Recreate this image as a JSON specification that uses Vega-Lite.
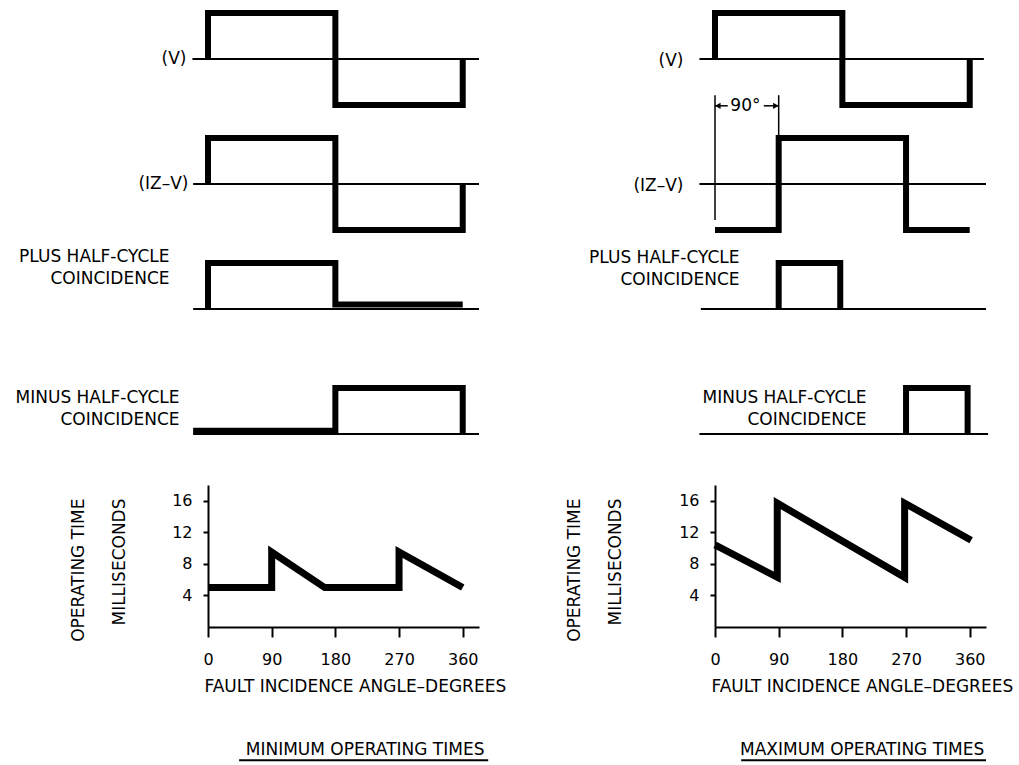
{
  "$schema": "https://vega.github.io/schema/vega-lite/v6.json",
  "background": "white",
  "padding": {"left": 15, "top": 0, "right": 2, "bottom": 2},
  "config": {
    "view": {"stroke": null},
    "font": "DejaVu Sans",
    "axis": {"grid": false, "titleFontWeight": "normal", "titleFontSize": 17, "titleColor": "#000", "labelColor": "#000", "labelFontSize": 16, "domainColor": "#000", "tickColor": "#000", "domainWidth": 2, "tickWidth": 2},
    "text": {"fontSize": 17, "color": "#000"}
  },
  "datasets": {
    "wave": [
      {"p": "minV", "i": 0, "deg": 0, "lvl": 0}, {"p": "minV", "i": 1, "deg": 0, "lvl": 1}, {"p": "minV", "i": 2, "deg": 180, "lvl": 1}, {"p": "minV", "i": 3, "deg": 180, "lvl": -1}, {"p": "minV", "i": 4, "deg": 360, "lvl": -1}, {"p": "minV", "i": 5, "deg": 360, "lvl": 0},
      {"p": "minIZ", "i": 0, "deg": 0, "lvl": 0}, {"p": "minIZ", "i": 1, "deg": 0, "lvl": 1}, {"p": "minIZ", "i": 2, "deg": 180, "lvl": 1}, {"p": "minIZ", "i": 3, "deg": 180, "lvl": -1}, {"p": "minIZ", "i": 4, "deg": 360, "lvl": -1}, {"p": "minIZ", "i": 5, "deg": 360, "lvl": 0},
      {"p": "minPlus", "i": 0, "deg": 0, "lvl": 0}, {"p": "minPlus", "i": 1, "deg": 0, "lvl": 1}, {"p": "minPlus", "i": 2, "deg": 180, "lvl": 1}, {"p": "minPlus", "i": 3, "deg": 180, "lvl": 0.1}, {"p": "minPlus", "i": 4, "deg": 360, "lvl": 0.1},
      {"p": "minMinus", "i": 0, "deg": -21, "lvl": 0.07}, {"p": "minMinus", "i": 1, "deg": 180, "lvl": 0.07}, {"p": "minMinus", "i": 2, "deg": 180, "lvl": 1}, {"p": "minMinus", "i": 3, "deg": 360, "lvl": 1}, {"p": "minMinus", "i": 4, "deg": 360, "lvl": 0},
      {"p": "maxV", "i": 0, "deg": 0, "lvl": 0}, {"p": "maxV", "i": 1, "deg": 0, "lvl": 1}, {"p": "maxV", "i": 2, "deg": 180, "lvl": 1}, {"p": "maxV", "i": 3, "deg": 180, "lvl": -1}, {"p": "maxV", "i": 4, "deg": 360, "lvl": -1}, {"p": "maxV", "i": 5, "deg": 360, "lvl": 0},
      {"p": "maxIZ", "i": 0, "deg": 0, "lvl": -1}, {"p": "maxIZ", "i": 1, "deg": 90, "lvl": -1}, {"p": "maxIZ", "i": 2, "deg": 90, "lvl": 1}, {"p": "maxIZ", "i": 3, "deg": 270, "lvl": 1}, {"p": "maxIZ", "i": 4, "deg": 270, "lvl": -1}, {"p": "maxIZ", "i": 5, "deg": 360, "lvl": -1},
      {"p": "maxPlus", "i": 0, "deg": 90, "lvl": 0}, {"p": "maxPlus", "i": 1, "deg": 90, "lvl": 1}, {"p": "maxPlus", "i": 2, "deg": 177, "lvl": 1}, {"p": "maxPlus", "i": 3, "deg": 177, "lvl": 0},
      {"p": "maxMinus", "i": 0, "deg": 270, "lvl": 0}, {"p": "maxMinus", "i": 1, "deg": 270, "lvl": 1}, {"p": "maxMinus", "i": 2, "deg": 357, "lvl": 1}, {"p": "maxMinus", "i": 3, "deg": 357, "lvl": 0}
    ],
    "base": [
      {"p": "minV", "deg": -22, "deg2": 383, "lvl": 0},
      {"p": "minIZ", "deg": -21, "deg2": 383, "lvl": 0},
      {"p": "minPlus", "deg": -21, "deg2": 383, "lvl": 0},
      {"p": "minMinus", "deg": -21, "deg2": 383, "lvl": 0},
      {"p": "maxV", "deg": -22, "deg2": 380, "lvl": 0},
      {"p": "maxIZ", "deg": -22, "deg2": 383, "lvl": 0},
      {"p": "maxPlus", "deg": -20, "deg2": 383, "lvl": 0},
      {"p": "maxMinus", "deg": -22, "deg2": 386, "lvl": 0}
    ],
    "op": [
      {"p": "min", "i": 0, "deg": 0, "ms": 5.0}, {"p": "min", "i": 1, "deg": 90, "ms": 5.0}, {"p": "min", "i": 2, "deg": 90, "ms": 9.5}, {"p": "min", "i": 3, "deg": 165, "ms": 5.0}, {"p": "min", "i": 4, "deg": 270, "ms": 5.0}, {"p": "min", "i": 5, "deg": 270, "ms": 9.5}, {"p": "min", "i": 6, "deg": 360, "ms": 5.0},
      {"p": "max", "i": 0, "deg": 0, "ms": 10.4}, {"p": "max", "i": 1, "deg": 88, "ms": 6.3}, {"p": "max", "i": 2, "deg": 88, "ms": 15.7}, {"p": "max", "i": 3, "deg": 268, "ms": 6.3}, {"p": "max", "i": 4, "deg": 268, "ms": 15.7}, {"p": "max", "i": 5, "deg": 362, "ms": 11.0}
    ],
    "captions": [
      {"p": "min", "caption": "MINIMUM OPERATING TIMES"},
      {"p": "max", "caption": "MAXIMUM OPERATING TIMES"}
    ],
    "annV": [{"deg": 0, "lvl": -0.78, "lvl2": 1.93}, {"deg": 90, "lvl": 1.0, "lvl2": 1.93}],
    "annH": [{"deg": 0, "deg2": 18, "lvl": 1.7}, {"deg": 69, "deg2": 90, "lvl": 1.7}],
    "annA": [{"deg": 4, "lvl": 1.7, "dir": "left"}, {"deg": 86, "lvl": 1.7, "dir": "right"}],
    "annT": [{"deg": 43, "lvl": 1.7, "label": "90°"}]
  },
  "columns": 2,
  "spacing": {"row": 5, "column": 236},
  "bounds": "flush",
  "concat": [
    {
      "width": 271, "height": 95,
      "encoding": {
        "x": {"field": "deg", "type": "quantitative", "scale": {"domain": [0, 383], "nice": false, "zero": false}, "axis": null},
        "y": {"field": "lvl", "type": "quantitative", "scale": {"domain": [-1, 1.0652], "nice": false, "zero": false}, "axis": {"title": "(V)", "domain": false, "ticks": false, "labels": false, "titleAngle": 0, "titleAlign": "right", "titleBaseline": "middle", "titleX": -22, "titleY": 48}}
      },
      "layer": [
        {"data": {"name": "base"}, "transform": [{"filter": "datum.p == 'minV'"}], "mark": {"type": "rule", "strokeWidth": 2, "color": "#000"}, "encoding": {"x2": {"field": "deg2"}}},
        {"data": {"name": "wave"}, "transform": [{"filter": "datum.p == 'minV'"}], "mark": {"type": "line", "strokeWidth": 6, "color": "#000", "strokeJoin": "miter", "strokeCap": "butt"}, "encoding": {"order": {"field": "i"}}}
      ]
    },
    {
      "width": 271, "height": 95,
      "encoding": {
        "x": {"field": "deg", "type": "quantitative", "scale": {"domain": [0, 383], "nice": false, "zero": false}, "axis": null},
        "y": {"field": "lvl", "type": "quantitative", "scale": {"domain": [-1, 1.0652], "nice": false, "zero": false}, "axis": {"title": "(V)", "domain": false, "ticks": false, "labels": false, "titleAngle": 0, "titleAlign": "right", "titleBaseline": "middle", "titleX": -32, "titleY": 50}}
      },
      "layer": [
        {"data": {"name": "base"}, "transform": [{"filter": "datum.p == 'maxV'"}], "mark": {"type": "rule", "strokeWidth": 2, "color": "#000"}, "encoding": {"x2": {"field": "deg2"}}},
        {"data": {"name": "wave"}, "transform": [{"filter": "datum.p == 'maxV'"}], "mark": {"type": "line", "strokeWidth": 6, "color": "#000", "strokeJoin": "miter", "strokeCap": "butt"}, "encoding": {"order": {"field": "i"}}}
      ]
    },
    {
      "width": 271, "height": 120,
      "encoding": {
        "x": {"field": "deg", "type": "quantitative", "scale": {"domain": [0, 383], "nice": false, "zero": false}, "axis": null},
        "y": {"field": "lvl", "type": "quantitative", "scale": {"domain": [-1, 1.6087], "nice": false, "zero": false}, "axis": {"title": "(IZ–V)", "domain": false, "ticks": false, "labels": false, "titleAngle": 0, "titleAlign": "right", "titleBaseline": "middle", "titleX": -20, "titleY": 73}}
      },
      "layer": [
        {"data": {"name": "base"}, "transform": [{"filter": "datum.p == 'minIZ'"}], "mark": {"type": "rule", "strokeWidth": 2, "color": "#000"}, "encoding": {"x2": {"field": "deg2"}}},
        {"data": {"name": "wave"}, "transform": [{"filter": "datum.p == 'minIZ'"}], "mark": {"type": "line", "strokeWidth": 6, "color": "#000", "strokeJoin": "miter", "strokeCap": "butt"}, "encoding": {"order": {"field": "i"}}}
      ]
    },
    {
      "width": 271, "height": 120,
      "encoding": {
        "x": {"field": "deg", "type": "quantitative", "scale": {"domain": [0, 383], "nice": false, "zero": false}, "axis": null},
        "y": {"field": "lvl", "type": "quantitative", "scale": {"domain": [-1, 1.6087], "nice": false, "zero": false}, "axis": {"title": "(IZ–V)", "domain": false, "ticks": false, "labels": false, "titleAngle": 0, "titleAlign": "right", "titleBaseline": "middle", "titleX": -32, "titleY": 75}}
      },
      "layer": [
        {"data": {"name": "base"}, "transform": [{"filter": "datum.p == 'maxIZ'"}], "mark": {"type": "rule", "strokeWidth": 2, "color": "#000"}, "encoding": {"x2": {"field": "deg2"}}},
        {"data": {"name": "annV"}, "mark": {"type": "rule", "strokeWidth": 1.5, "color": "#000"}, "encoding": {"y2": {"field": "lvl2"}}},
        {"data": {"name": "annH"}, "mark": {"type": "rule", "strokeWidth": 1.5, "color": "#000"}, "encoding": {"x2": {"field": "deg2"}}},
        {"data": {"name": "annA"}, "mark": {"type": "point", "filled": true, "size": 40, "color": "#000", "opacity": 1}, "encoding": {"shape": {"field": "dir", "type": "nominal", "scale": {"domain": ["left", "right"], "range": ["triangle-left", "triangle-right"]}, "legend": null}}},
        {"data": {"name": "annT"}, "mark": {"type": "text", "fontSize": 17, "align": "center", "baseline": "middle"}, "encoding": {"text": {"field": "label"}}},
        {"data": {"name": "wave"}, "transform": [{"filter": "datum.p == 'maxIZ'"}], "mark": {"type": "line", "strokeWidth": 6, "color": "#000", "strokeJoin": "miter", "strokeCap": "butt"}, "encoding": {"order": {"field": "i"}}}
      ]
    },
    {
      "width": 271, "height": 120,
      "encoding": {
        "x": {"field": "deg", "type": "quantitative", "scale": {"domain": [0, 383], "nice": false, "zero": false}, "axis": null},
        "y": {"field": "lvl", "type": "quantitative", "scale": {"domain": [-1, 1.6087], "nice": false, "zero": false}, "axis": {"title": ["PLUS HALF-CYCLE", "COINCIDENCE"], "titleLineHeight": 22, "domain": false, "ticks": false, "labels": false, "titleAngle": 0, "titleAlign": "right", "titleBaseline": "middle", "titleX": -39, "titleY": 21}}
      },
      "layer": [
        {"data": {"name": "base"}, "transform": [{"filter": "datum.p == 'minPlus'"}], "mark": {"type": "rule", "strokeWidth": 2, "color": "#000"}, "encoding": {"x2": {"field": "deg2"}}},
        {"data": {"name": "wave"}, "transform": [{"filter": "datum.p == 'minPlus'"}], "mark": {"type": "line", "strokeWidth": 6, "color": "#000", "strokeJoin": "miter", "strokeCap": "butt"}, "encoding": {"order": {"field": "i"}}}
      ]
    },
    {
      "width": 271, "height": 120,
      "encoding": {
        "x": {"field": "deg", "type": "quantitative", "scale": {"domain": [0, 383], "nice": false, "zero": false}, "axis": null},
        "y": {"field": "lvl", "type": "quantitative", "scale": {"domain": [-1, 1.6087], "nice": false, "zero": false}, "axis": {"title": ["PLUS HALF-CYCLE", "COINCIDENCE"], "titleLineHeight": 22, "domain": false, "ticks": false, "labels": false, "titleAngle": 0, "titleAlign": "right", "titleBaseline": "middle", "titleX": 24, "titleY": 22}}
      },
      "layer": [
        {"data": {"name": "base"}, "transform": [{"filter": "datum.p == 'maxPlus'"}], "mark": {"type": "rule", "strokeWidth": 2, "color": "#000"}, "encoding": {"x2": {"field": "deg2"}}},
        {"data": {"name": "wave"}, "transform": [{"filter": "datum.p == 'maxPlus'"}], "mark": {"type": "line", "strokeWidth": 6, "color": "#000", "strokeJoin": "miter", "strokeCap": "butt"}, "encoding": {"order": {"field": "i"}}}
      ]
    },
    {
      "width": 271, "height": 120,
      "encoding": {
        "x": {"field": "deg", "type": "quantitative", "scale": {"domain": [0, 383], "nice": false, "zero": false}, "axis": null},
        "y": {"field": "lvl", "type": "quantitative", "scale": {"domain": [-1, 1.6087], "nice": false, "zero": false}, "axis": {"title": ["MINUS HALF-CYCLE", "COINCIDENCE"], "titleLineHeight": 22, "domain": false, "ticks": false, "labels": false, "titleAngle": 0, "titleAlign": "right", "titleBaseline": "middle", "titleX": -29, "titleY": 37}}
      },
      "layer": [
        {"data": {"name": "base"}, "transform": [{"filter": "datum.p == 'minMinus'"}], "mark": {"type": "rule", "strokeWidth": 2, "color": "#000"}, "encoding": {"x2": {"field": "deg2"}}},
        {"data": {"name": "wave"}, "transform": [{"filter": "datum.p == 'minMinus'"}], "mark": {"type": "line", "strokeWidth": 6, "color": "#000", "strokeJoin": "miter", "strokeCap": "butt"}, "encoding": {"order": {"field": "i"}}}
      ]
    },
    {
      "width": 271, "height": 120,
      "encoding": {
        "x": {"field": "deg", "type": "quantitative", "scale": {"domain": [0, 383], "nice": false, "zero": false}, "axis": null},
        "y": {"field": "lvl", "type": "quantitative", "scale": {"domain": [-1, 1.6087], "nice": false, "zero": false}, "axis": {"title": ["MINUS HALF-CYCLE", "COINCIDENCE"], "titleLineHeight": 22, "domain": false, "ticks": false, "labels": false, "titleAngle": 0, "titleAlign": "right", "titleBaseline": "middle", "titleX": 151, "titleY": 37}}
      },
      "layer": [
        {"data": {"name": "base"}, "transform": [{"filter": "datum.p == 'maxMinus'"}], "mark": {"type": "rule", "strokeWidth": 2, "color": "#000"}, "encoding": {"x2": {"field": "deg2"}}},
        {"data": {"name": "wave"}, "transform": [{"filter": "datum.p == 'maxMinus'"}], "mark": {"type": "line", "strokeWidth": 6, "color": "#000", "strokeJoin": "miter", "strokeCap": "butt"}, "encoding": {"order": {"field": "i"}}}
      ]
    },
    {
      "width": 271, "height": 142,
      "layer": [
        {"data": {"name": "op"}, "transform": [{"filter": "datum.p == 'min'"}], "mark": {"type": "line", "strokeWidth": 7, "color": "#000", "strokeJoin": "miter", "strokeCap": "butt"},
         "encoding": {
           "x": {"field": "deg", "type": "quantitative", "scale": {"domain": [0, 383], "nice": false, "zero": false}, "axis": {"values": [0, 90, 180, 270, 360], "labelFlush": false, "labelOverlap": false, "tickSize": 10, "labelPadding": 14, "title": "FAULT INCIDENCE ANGLE–DEGREES", "titleAlign": "left", "titleBaseline": "middle", "titleX": -4, "titleY": 59}},
           "y": {"field": "ms", "type": "quantitative", "scale": {"domain": [0, 18], "nice": false, "zero": false}, "axis": {"values": [4, 8, 12, 16], "tickSize": 5, "labelPadding": 11, "labelBaseline": "middle", "title": ["OPERATING TIME", "MILLISECONDS"], "titleAngle": 270, "titleAlign": "right", "titleBaseline": "middle", "titleLineHeight": 41, "titleX": -130, "titleY": 13}},
           "order": {"field": "i"}
         }},
        {"data": {"name": "captions"}, "transform": [{"filter": "datum.p == 'min'"}], "mark": {"type": "text", "fontSize": 17, "align": "center", "baseline": "middle", "clip": false},
         "encoding": {"x": {"datum": 222, "type": "quantitative"}, "y": {"datum": -15.6, "type": "quantitative"}, "text": {"field": "caption", "type": "nominal"}}},
        {"data": {"name": "captions"}, "transform": [{"filter": "datum.p == 'min'"}], "mark": {"type": "rule", "strokeWidth": 2, "color": "#000", "clip": false},
         "encoding": {"x": {"datum": 44, "type": "quantitative"}, "x2": {"datum": 396}, "y": {"datum": -16.9, "type": "quantitative"}}}
      ]
    },
    {
      "width": 271, "height": 142,
      "layer": [
        {"data": {"name": "op"}, "transform": [{"filter": "datum.p == 'max'"}], "mark": {"type": "line", "strokeWidth": 7, "color": "#000", "strokeJoin": "miter", "strokeCap": "butt"},
         "encoding": {
           "x": {"field": "deg", "type": "quantitative", "scale": {"domain": [0, 383], "nice": false, "zero": false}, "axis": {"values": [0, 90, 180, 270, 360], "labelFlush": false, "labelOverlap": false, "tickSize": 10, "labelPadding": 14, "title": "FAULT INCIDENCE ANGLE–DEGREES", "titleAlign": "left", "titleBaseline": "middle", "titleX": -4, "titleY": 59}},
           "y": {"field": "ms", "type": "quantitative", "scale": {"domain": [0, 18], "nice": false, "zero": false}, "axis": {"values": [4, 8, 12, 16], "tickSize": 5, "labelPadding": 11, "labelBaseline": "middle", "title": ["OPERATING TIME", "MILLISECONDS"], "titleAngle": 270, "titleAlign": "right", "titleBaseline": "middle", "titleLineHeight": 41, "titleX": -141, "titleY": 13}},
           "order": {"field": "i"}
         }},
        {"data": {"name": "captions"}, "transform": [{"filter": "datum.p == 'max'"}], "mark": {"type": "text", "fontSize": 17, "align": "center", "baseline": "middle", "clip": false},
         "encoding": {"x": {"datum": 208, "type": "quantitative"}, "y": {"datum": -15.6, "type": "quantitative"}, "text": {"field": "caption", "type": "nominal"}}},
        {"data": {"name": "captions"}, "transform": [{"filter": "datum.p == 'max'"}], "mark": {"type": "rule", "strokeWidth": 2, "color": "#000", "clip": false},
         "encoding": {"x": {"datum": 37, "type": "quantitative"}, "x2": {"datum": 383}, "y": {"datum": -16.9, "type": "quantitative"}}}
      ]
    }
  ]
}
